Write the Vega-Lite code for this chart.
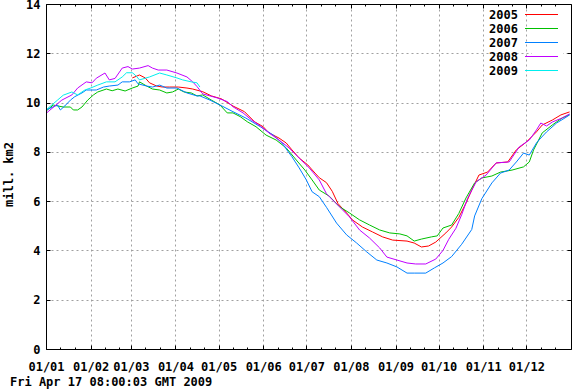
{
  "$schema": "https://vega.github.io/schema/vega-lite/v6.json",
  "width": 525,
  "height": 345,
  "autosize": {"type": "none"},
  "padding": {"left": 46, "top": 4, "right": 1, "bottom": 40},
  "background": "white",
  "config": {
    "font": "DejaVu Sans Mono",
    "view": {"stroke": null},
    "axis": {"labelFont": "DejaVu Sans Mono", "labelFontSize": 12, "labelFontWeight": "bold", "labelColor": "black", "titleFont": "DejaVu Sans Mono", "titleFontSize": 12, "titleFontWeight": "bold", "titleColor": "black", "tickColor": "black", "domainColor": "black", "gridColor": "#a0a0a0", "gridDash": [2, 3], "gridWidth": 1}
  },
  "title": {"text": "Fri Apr 17 08:00:03 GMT 2009", "orient": "bottom", "anchor": "start", "frame": "group", "dx": -36, "offset": 5, "font": "DejaVu Sans Mono", "fontSize": 12, "fontWeight": "bold", "color": "black"},
  "data": {"values": [
    {"year":"2005","day":60,"v":11.0},{"year":"2005","day":65,"v":11.12},{"year":"2005","day":69,"v":11.0},{"year":"2005","day":72,"v":10.8},{"year":"2005","day":77,"v":10.67},{"year":"2005","day":81,"v":10.63},{"year":"2005","day":86,"v":10.63},{"year":"2005","day":92,"v":10.63},{"year":"2005","day":98,"v":10.59},{"year":"2005","day":102,"v":10.55},{"year":"2005","day":109,"v":10.44},{"year":"2005","day":115,"v":10.27},{"year":"2005","day":122,"v":10.15},{"year":"2005","day":130,"v":9.86},{"year":"2005","day":138,"v":9.63},{"year":"2005","day":145,"v":9.22},{"year":"2005","day":151,"v":9.02},{"year":"2005","day":155,"v":8.77},{"year":"2005","day":162,"v":8.56},{"year":"2005","day":167,"v":8.36},{"year":"2005","day":171,"v":8.08},{"year":"2005","day":176,"v":7.75},{"year":"2005","day":182,"v":7.47},{"year":"2005","day":187,"v":7.14},{"year":"2005","day":190,"v":6.95},{"year":"2005","day":195,"v":6.75},{"year":"2005","day":199,"v":6.4},{"year":"2005","day":203,"v":5.9},{"year":"2005","day":209,"v":5.52},{"year":"2005","day":213,"v":5.24},{"year":"2005","day":220,"v":4.95},{"year":"2005","day":227,"v":4.75},{"year":"2005","day":234,"v":4.55},{"year":"2005","day":241,"v":4.42},{"year":"2005","day":251,"v":4.38},{"year":"2005","day":256,"v":4.3},{"year":"2005","day":261,"v":4.14},{"year":"2005","day":266,"v":4.18},{"year":"2005","day":271,"v":4.34},{"year":"2005","day":278,"v":4.71},{"year":"2005","day":282,"v":4.95},{"year":"2005","day":287,"v":5.34},{"year":"2005","day":292,"v":5.92},{"year":"2005","day":296,"v":6.45},{"year":"2005","day":301,"v":7.06},{"year":"2005","day":307,"v":7.18},{"year":"2005","day":313,"v":7.55},{"year":"2005","day":321,"v":7.59},{"year":"2005","day":327,"v":8.08},{"year":"2005","day":334,"v":8.4},{"year":"2005","day":341,"v":8.81},{"year":"2005","day":345,"v":9.09},{"year":"2005","day":352,"v":9.29},{"year":"2005","day":358,"v":9.5},{"year":"2005","day":364,"v":9.62},
    {"year":"2006","day":0,"v":9.65},{"year":"2006","day":5,"v":9.9},{"year":"2006","day":12,"v":9.82},{"year":"2006","day":17,"v":9.82},{"year":"2006","day":19,"v":9.7},{"year":"2006","day":22,"v":9.7},{"year":"2006","day":25,"v":9.82},{"year":"2006","day":29,"v":10.1},{"year":"2006","day":33,"v":10.31},{"year":"2006","day":36,"v":10.43},{"year":"2006","day":42,"v":10.55},{"year":"2006","day":46,"v":10.48},{"year":"2006","day":50,"v":10.55},{"year":"2006","day":55,"v":10.47},{"year":"2006","day":60,"v":10.59},{"year":"2006","day":64,"v":10.67},{"year":"2006","day":65,"v":10.84},{"year":"2006","day":70,"v":10.67},{"year":"2006","day":74,"v":10.55},{"year":"2006","day":79,"v":10.51},{"year":"2006","day":84,"v":10.39},{"year":"2006","day":88,"v":10.43},{"year":"2006","day":92,"v":10.55},{"year":"2006","day":96,"v":10.43},{"year":"2006","day":101,"v":10.39},{"year":"2006","day":105,"v":10.27},{"year":"2006","day":109,"v":10.31},{"year":"2006","day":115,"v":10.1},{"year":"2006","day":121,"v":9.9},{"year":"2006","day":126,"v":9.58},{"year":"2006","day":130,"v":9.58},{"year":"2006","day":135,"v":9.43},{"year":"2006","day":140,"v":9.22},{"year":"2006","day":146,"v":9.02},{"year":"2006","day":153,"v":8.68},{"year":"2006","day":160,"v":8.48},{"year":"2006","day":167,"v":8.16},{"year":"2006","day":174,"v":7.67},{"year":"2006","day":180,"v":7.26},{"year":"2006","day":185,"v":6.86},{"year":"2006","day":190,"v":6.45},{"year":"2006","day":197,"v":6.2},{"year":"2006","day":204,"v":5.78},{"year":"2006","day":211,"v":5.52},{"year":"2006","day":218,"v":5.24},{"year":"2006","day":225,"v":5.03},{"year":"2006","day":232,"v":4.83},{"year":"2006","day":239,"v":4.71},{"year":"2006","day":246,"v":4.67},{"year":"2006","day":251,"v":4.59},{"year":"2006","day":256,"v":4.38},{"year":"2006","day":261,"v":4.46},{"year":"2006","day":268,"v":4.55},{"year":"2006","day":272,"v":4.59},{"year":"2006","day":276,"v":4.91},{"year":"2006","day":282,"v":5.03},{"year":"2006","day":287,"v":5.5},{"year":"2006","day":292,"v":6.13},{"year":"2006","day":298,"v":6.74},{"year":"2006","day":303,"v":6.94},{"year":"2006","day":310,"v":7.02},{"year":"2006","day":316,"v":7.18},{"year":"2006","day":324,"v":7.26},{"year":"2006","day":332,"v":7.39},{"year":"2006","day":336,"v":7.59},{"year":"2006","day":339,"v":8.08},{"year":"2006","day":345,"v":8.77},{"year":"2006","day":352,"v":9.09},{"year":"2006","day":359,"v":9.38},{"year":"2006","day":364,"v":9.5},
    {"year":"2007","day":0,"v":9.7},{"year":"2007","day":8,"v":9.9},{"year":"2007","day":10,"v":9.7},{"year":"2007","day":13,"v":9.86},{"year":"2007","day":17,"v":10.1},{"year":"2007","day":20,"v":10.24},{"year":"2007","day":25,"v":10.39},{"year":"2007","day":28,"v":10.51},{"year":"2007","day":35,"v":10.51},{"year":"2007","day":40,"v":10.63},{"year":"2007","day":44,"v":10.67},{"year":"2007","day":50,"v":10.71},{"year":"2007","day":53,"v":10.84},{"year":"2007","day":58,"v":10.84},{"year":"2007","day":62,"v":10.92},{"year":"2007","day":64,"v":10.76},{"year":"2007","day":70,"v":10.67},{"year":"2007","day":74,"v":10.63},{"year":"2007","day":79,"v":10.71},{"year":"2007","day":84,"v":10.59},{"year":"2007","day":91,"v":10.59},{"year":"2007","day":98,"v":10.39},{"year":"2007","day":105,"v":10.27},{"year":"2007","day":107,"v":10.27},{"year":"2007","day":114,"v":10.1},{"year":"2007","day":121,"v":9.9},{"year":"2007","day":130,"v":9.63},{"year":"2007","day":139,"v":9.37},{"year":"2007","day":149,"v":9.02},{"year":"2007","day":158,"v":8.68},{"year":"2007","day":164,"v":8.36},{"year":"2007","day":171,"v":7.8},{"year":"2007","day":176,"v":7.35},{"year":"2007","day":181,"v":6.86},{"year":"2007","day":185,"v":6.38},{"year":"2007","day":190,"v":6.18},{"year":"2007","day":195,"v":5.75},{"year":"2007","day":202,"v":5.11},{"year":"2007","day":209,"v":4.63},{"year":"2007","day":216,"v":4.3},{"year":"2007","day":223,"v":3.94},{"year":"2007","day":230,"v":3.61},{"year":"2007","day":237,"v":3.49},{"year":"2007","day":244,"v":3.33},{"year":"2007","day":251,"v":3.08},{"year":"2007","day":256,"v":3.08},{"year":"2007","day":264,"v":3.08},{"year":"2007","day":270,"v":3.29},{"year":"2007","day":276,"v":3.49},{"year":"2007","day":282,"v":3.75},{"year":"2007","day":289,"v":4.25},{"year":"2007","day":296,"v":4.85},{"year":"2007","day":298,"v":5.4},{"year":"2007","day":303,"v":6.1},{"year":"2007","day":310,"v":6.74},{"year":"2007","day":316,"v":7.14},{"year":"2007","day":322,"v":7.26},{"year":"2007","day":327,"v":7.59},{"year":"2007","day":332,"v":7.95},{"year":"2007","day":336,"v":7.87},{"year":"2007","day":341,"v":8.36},{"year":"2007","day":344,"v":8.56},{"year":"2007","day":348,"v":8.81},{"year":"2007","day":355,"v":9.17},{"year":"2007","day":362,"v":9.42},{"year":"2007","day":364,"v":9.5},
    {"year":"2008","day":0,"v":9.56},{"year":"2008","day":11,"v":10.1},{"year":"2008","day":18,"v":10.31},{"year":"2008","day":22,"v":10.59},{"year":"2008","day":28,"v":10.84},{"year":"2008","day":32,"v":10.8},{"year":"2008","day":35,"v":10.99},{"year":"2008","day":41,"v":11.2},{"year":"2008","day":44,"v":10.92},{"year":"2008","day":48,"v":10.98},{"year":"2008","day":53,"v":11.4},{"year":"2008","day":57,"v":11.46},{"year":"2008","day":60,"v":11.36},{"year":"2008","day":65,"v":11.4},{"year":"2008","day":71,"v":11.5},{"year":"2008","day":74,"v":11.4},{"year":"2008","day":78,"v":11.32},{"year":"2008","day":84,"v":11.32},{"year":"2008","day":91,"v":11.2},{"year":"2008","day":98,"v":11.04},{"year":"2008","day":102,"v":10.84},{"year":"2008","day":105,"v":10.65},{"year":"2008","day":107,"v":10.5},{"year":"2008","day":109,"v":10.35},{"year":"2008","day":119,"v":10.19},{"year":"2008","day":126,"v":10.04},{"year":"2008","day":130,"v":9.83},{"year":"2008","day":137,"v":9.58},{"year":"2008","day":143,"v":9.29},{"year":"2008","day":149,"v":9.05},{"year":"2008","day":155,"v":8.77},{"year":"2008","day":162,"v":8.48},{"year":"2008","day":169,"v":8.16},{"year":"2008","day":176,"v":7.75},{"year":"2008","day":183,"v":7.35},{"year":"2008","day":190,"v":6.86},{"year":"2008","day":195,"v":6.3},{"year":"2008","day":204,"v":5.77},{"year":"2008","day":211,"v":5.36},{"year":"2008","day":218,"v":4.83},{"year":"2008","day":225,"v":4.5},{"year":"2008","day":232,"v":4.1},{"year":"2008","day":237,"v":3.73},{"year":"2008","day":244,"v":3.61},{"year":"2008","day":251,"v":3.49},{"year":"2008","day":257,"v":3.45},{"year":"2008","day":264,"v":3.45},{"year":"2008","day":271,"v":3.65},{"year":"2008","day":276,"v":4.0},{"year":"2008","day":280,"v":4.45},{"year":"2008","day":285,"v":4.9},{"year":"2008","day":289,"v":5.45},{"year":"2008","day":293,"v":6.1},{"year":"2008","day":299,"v":6.78},{"year":"2008","day":306,"v":7.06},{"year":"2008","day":313,"v":7.55},{"year":"2008","day":322,"v":7.59},{"year":"2008","day":329,"v":8.2},{"year":"2008","day":336,"v":8.48},{"year":"2008","day":341,"v":8.89},{"year":"2008","day":344,"v":9.17},{"year":"2008","day":348,"v":9.05},{"year":"2008","day":352,"v":9.21},{"year":"2008","day":359,"v":9.38},{"year":"2008","day":364,"v":9.54},
    {"year":"2009","day":0,"v":9.7},{"year":"2009","day":8,"v":10.1},{"year":"2009","day":12,"v":10.3},{"year":"2009","day":18,"v":10.43},{"year":"2009","day":22,"v":10.31},{"year":"2009","day":27,"v":10.51},{"year":"2009","day":31,"v":10.59},{"year":"2009","day":36,"v":10.71},{"year":"2009","day":42,"v":10.84},{"year":"2009","day":48,"v":10.84},{"year":"2009","day":53,"v":11.04},{"year":"2009","day":56,"v":11.21},{"year":"2009","day":60,"v":11.21},{"year":"2009","day":62,"v":11.12},{"year":"2009","day":65,"v":10.92},{"year":"2009","day":72,"v":11.04},{"year":"2009","day":79,"v":11.2},{"year":"2009","day":84,"v":11.12},{"year":"2009","day":91,"v":11.0},{"year":"2009","day":95,"v":10.92},{"year":"2009","day":101,"v":10.84},{"year":"2009","day":105,"v":10.8},{"year":"2009","day":107,"v":10.63}
  ]},
  "resolve": {"axis": {"x": "independent", "y": "independent"}},
  "layer": [
    {
      "mark": {"type": "line", "strokeWidth": 1, "interpolate": "linear"},
      "encoding": {
        "x": {"field": "day", "type": "quantitative", "scale": {"domain": [0, 365], "nice": false, "zero": false},
          "axis": {"orient": "bottom", "values": [0,31,59,90,120,151,181,212,243,273,304,334], "labelExpr": "['01/01','01/02','01/03','01/04','01/05','01/06','01/07','01/08','01/09','01/10','01/11','01/12'][indexof([0,31,59,90,120,151,181,212,243,273,304,334], datum.value)]", "grid": true, "domain": false, "tickSize": -4, "labelPadding": 16, "labelFlush": false, "labelOverlap": false, "title": null}},
        "y": {"field": "v", "type": "quantitative", "scale": {"domain": [0, 14], "nice": false},
          "axis": {"orient": "left", "values": [0,2,4,6,8,10,12,14], "grid": true, "domain": false, "tickSize": -4, "labelPadding": 10, "labelFlush": false, "title": "mill. km2", "titleAngle": -90, "titleX": -38, "titleY": 170, "titleAlign": "center", "titleBaseline": "middle"}},
        "color": {"field": "year", "type": "nominal",
          "scale": {"domain": ["2005","2006","2007","2008","2009"], "range": ["#ff0000","#00c000","#0080ff","#c000ff","#00eeee"]},
          "legend": {"title": null, "orient": "none", "legendX": 486, "legendY": 1, "symbolType": "M-2.75,0H2.75", "symbolSize": 144, "symbolStrokeWidth": 1, "labelAlign": "right", "labelOffset": -30, "labelFont": "DejaVu Sans Mono", "labelFontSize": 12, "labelFontWeight": "bold", "labelColor": "black", "rowPadding": 1, "fillColor": "white", "padding": 3}}
      }
    },
    {
      "mark": {"type": "line", "strokeOpacity": 0},
      "encoding": {
        "detail": {"field": "year"},
        "x": {"field": "day", "type": "quantitative", "axis": {"orient": "top", "values": [0,31,59,90,120,151,181,212,243,273,304,334], "labels": false, "grid": false, "domain": true, "tickSize": -4, "zindex": 1, "title": null}},
        "y": {"field": "v", "type": "quantitative", "axis": {"orient": "right", "values": [0,2,4,6,8,10,12,14], "labels": false, "grid": false, "domain": true, "tickSize": -4, "zindex": 1, "title": null}}
      }
    },
    {
      "mark": {"type": "line", "strokeOpacity": 0},
      "encoding": {
        "detail": {"field": "year"},
        "x": {"field": "day", "type": "quantitative", "axis": {"orient": "bottom", "values": [10,20,41,51,69,79,100,110,130,140,161,171,191,201,222,232,253,263,283,293,314,324,344,354], "labels": false, "grid": false, "domain": true, "tickSize": -2, "zindex": 1, "title": null}},
        "y": {"field": "v", "type": "quantitative", "axis": {"orient": "left", "values": [], "labels": false, "grid": false, "domain": true, "ticks": false, "zindex": 1, "title": null}}
      }
    },
    {
      "mark": {"type": "line", "strokeOpacity": 0},
      "encoding": {
        "detail": {"field": "year"},
        "x": {"field": "day", "type": "quantitative", "axis": {"orient": "top", "values": [10,20,41,51,69,79,100,110,130,140,161,171,191,201,222,232,253,263,283,293,314,324,344,354], "labels": false, "grid": false, "domain": false, "tickSize": -2, "zindex": 1, "title": null}},
        "y": {"field": "v", "type": "quantitative", "axis": null}
      }
    }
  ]
}
